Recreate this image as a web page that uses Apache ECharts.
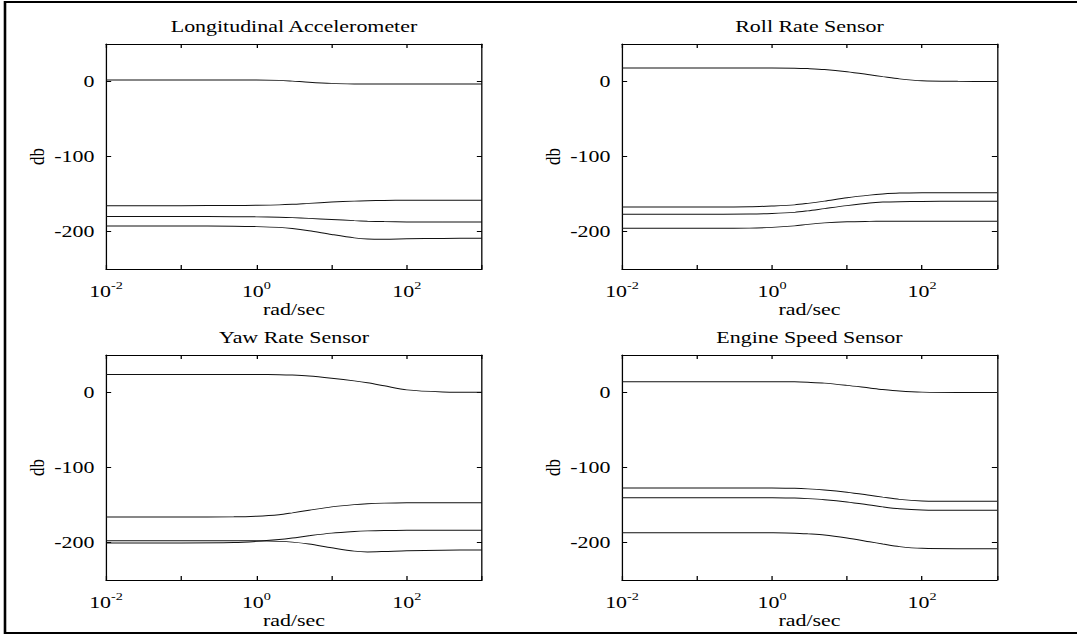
<!DOCTYPE html>
<html>
<head>
<meta charset="utf-8">
<script src="https://cdn.jsdelivr.net/npm/echarts@6/dist/echarts.min.js"></script>
<style>
  html, body { margin: 0; padding: 0; background: #fff; overflow: hidden; }
  /* the reference figure is stretched sideways, so draw narrower and widen */
  #main { width: 835px; height: 635px; transform: scaleX(1.29); transform-origin: 0 0; }
</style>
</head>
<body>
<div id="main"></div>
<script>
const SX = 1.29;

// frequency samples, rad/sec
const freq = [0.01, 0.1, 0.5, 1, 2, 3, 5, 10, 20, 30, 50, 100, 300, 1000];

const titles = ['Longitudinal Accelerometer', 'Roll Rate Sensor', 'Yaw Rate Sensor', 'Engine Speed Sensor'];

// magnitude in db, four curves per panel
const accelDb = [
  [2, 2, 2, 2, 1.5, 0.5, -1, -2.5, -3.2, -3.3, -3.3, -3.3, -3.3, -3.3],
  [-165.5, -165.5, -165.3, -165, -164.5, -163.8, -162.5, -160.8, -159.5, -159, -158.6, -158.4, -158.3, -158.3],
  [-180, -180, -180.2, -180.5, -181, -181.5, -182.5, -184, -185.5, -186.2, -186.8, -187.2, -187.3, -187.3],
  [-192.5, -192.6, -193, -193.5, -194.5, -196, -199, -204, -208.5, -210, -210.3, -209.8, -209.2, -209]
];
const rollDb = [
  [18, 18, 18, 18, 17.8, 17.2, 16, 13, 9, 6.5, 3.5, 1, 0.2, 0],
  [-167.3, -167.3, -167, -166, -164.5, -162.5, -159.5, -155, -151.5, -150, -148.8, -148.3, -148.2, -148.2],
  [-177, -177, -176.7, -176, -174.5, -172.5, -169.5, -165.5, -162, -160.8, -160.2, -159.9, -159.8, -159.8],
  [-195.8, -195.8, -195.5, -194.5, -192.5, -190.5, -188.5, -187, -186.5, -186.4, -186.4, -186.4, -186.4, -186.4]
];
const yawDb = [
  [24, 24, 24, 24, 23.8, 23.3, 22, 19, 15.5, 13, 9, 3.5, 0.8, 0.3],
  [-166, -166, -165.8, -165, -163, -160.5, -157, -152.5, -149.5, -148.3, -147.5, -147, -146.9, -146.9],
  [-200.5, -200.5, -200, -198.5, -196, -194, -191, -187.5, -185.3, -184.5, -184, -183.8, -183.7, -183.7],
  [-197.5, -197.5, -197.6, -197.8, -198.5, -199.5, -202, -207, -211.5, -212.5, -212, -211, -210.3, -210]
];
const engineDb = [
  [14.5, 14.5, 14.5, 14.5, 14.2, 13.6, 12.5, 9.5, 6, 4, 2, 0.5, 0, 0],
  [-127.3, -127.3, -127.3, -127.4, -127.8, -128.5, -130, -133, -137, -139.5, -142.5, -144.6, -145.1, -145.1],
  [-140.2, -140.2, -140.2, -140.3, -140.7, -141.5, -143, -146, -150, -152.5, -155, -156.7, -157.1, -157.1],
  [-186.9, -186.9, -186.9, -187.1, -187.6, -188.5, -190, -194, -199, -202, -205.5, -207.8, -208.2, -208.2]
];
const panels = [accelDb, rollDb, yawDb, engineDb];

const xTicks = [0.01, 0.1, 1, 10, 100, 1000];
const xLabels = [0.01, 1, 100];
const yTicks = [-200, -100, 0];

// plot boxes in page pixels
const boxes = [
  {l: 106, r: 482, t: 44, b: 269},
  {l: 622, r: 997, t: 44, b: 269},
  {l: 106, r: 482, t: 355, b: 580},
  {l: 622, r: 997, t: 355, b: 580}
];

const font = 'Liberation Serif';
const black = '#000';

let grid = [], xAxis = [], yAxis = [], title = [], series = [];

boxes.forEach((b, i) => {
  grid.push({left: b.l / SX, width: (b.r - b.l) / SX, top: b.t, height: b.b - b.t});
  title.push({
    text: titles[i],
    left: (b.l + b.r) / 2 / SX,
    textAlign: 'center',
    top: b.t - 26,
    padding: 0,
    textStyle: {fontFamily: font, fontSize: 17, fontWeight: 'normal', color: black}
  });
  xAxis.push({
    gridIndex: i, type: 'log', logBase: 10, min: 0.01, max: 1000, position: 'bottom',
    axisLine: {onZero: false, lineStyle: {color: black, width: 1}},
    axisTick: {inside: true, length: 4, customValues: xTicks, lineStyle: {color: black}},
    axisLabel: {
      customValues: xLabels, margin: 11,
      formatter: v => '{b|10}{s|' + Math.round(Math.log10(v)) + '}',
      rich: {
        b: {fontFamily: font, fontSize: 17, color: black, verticalAlign: 'bottom'},
        s: {fontFamily: font, fontSize: 11, color: black, verticalAlign: 'bottom', padding: [0, 0, 9, 0]}
      }
    },
    splitLine: {show: false},
    name: 'rad/sec', nameLocation: 'middle', nameGap: 23,
    nameTextStyle: {fontFamily: font, fontSize: 17, color: black}
  });
  xAxis.push({
    gridIndex: i, type: 'log', logBase: 10, min: 0.01, max: 1000, position: 'top',
    axisLine: {onZero: false, lineStyle: {color: black, width: 1}},
    axisTick: {inside: true, length: 4, customValues: xTicks, lineStyle: {color: black}},
    axisLabel: {show: false},
    splitLine: {show: false}
  });
  yAxis.push({
    gridIndex: i, type: 'value', min: -250, max: 50, position: 'left',
    axisLine: {show: true, onZero: false, lineStyle: {color: black, width: 1}},
    axisTick: {show: true, inside: true, length: 4, customValues: yTicks, lineStyle: {color: black}},
    axisLabel: {customValues: yTicks, margin: 9, fontFamily: font, fontSize: 17, color: black},
    splitLine: {show: false},
    name: 'db', nameLocation: 'middle', nameGap: 45,
    nameTextStyle: {fontFamily: font, fontSize: 17, color: black}
  });
  yAxis.push({
    gridIndex: i, type: 'value', min: -250, max: 50, position: 'right',
    axisLine: {show: true, onZero: false, lineStyle: {color: black, width: 1}},
    axisTick: {show: true, inside: true, length: 4, customValues: yTicks, lineStyle: {color: black}},
    axisLabel: {show: false},
    splitLine: {show: false}
  });
  panels[i].forEach(curve => {
    series.push({
      type: 'line',
      xAxisIndex: 2 * i,
      yAxisIndex: 2 * i,
      data: freq.map((f, k) => [f, curve[k]]),
      showSymbol: false,
      smooth: 0.3,
      silent: true,
      lineStyle: {color: '#111', width: 1}
    });
  });
});

const chart = echarts.init(document.getElementById('main'), null, {renderer: 'svg'});
chart.setOption({
  animation: false,
  backgroundColor: '#fff',
  title: title,
  grid: grid,
  xAxis: xAxis,
  yAxis: yAxis,
  series: series,
  // outer frame: left, top and bottom edges only (right edge is off the page)
  graphic: [{
    type: 'polyline',
    shape: {points: [[1200 / SX, 2], [5 / SX, 2], [5 / SX, 633], [1200 / SX, 633]]},
    style: {fill: 'none', stroke: black, lineWidth: 2},
    silent: true
  }]
});
</script>
</body>
</html>
